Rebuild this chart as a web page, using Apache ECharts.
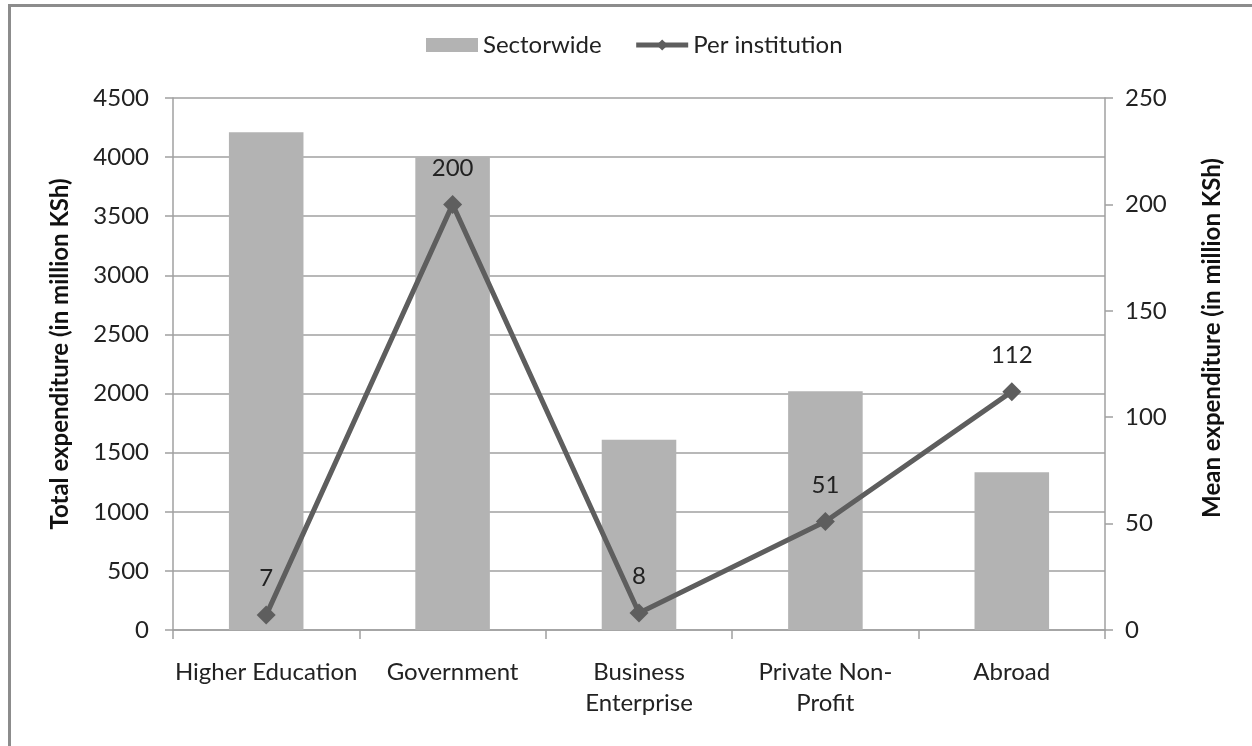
<!DOCTYPE html>
<html>
<head>
<meta charset="utf-8">
<script src="https://cdn.jsdelivr.net/npm/echarts@6/dist/echarts.min.js"></script>
<style>
  html, body { margin: 0; padding: 0; background: #fff; }
  #frame { position: absolute; left: 8px; top: 4px; width: 1260px; height: 760px;
           border-left: 3px solid #8c8c8c; border-top: 3px solid #8c8c8c; box-sizing: border-box; }
  #chart { position: absolute; left: 0; top: 0; width: 1252px; height: 746px; }
</style>
</head>
<body>
<div id="frame"></div>
<div id="chart"></div>
<script>
// Research expenditure by sector
const categories = ['Higher Education', 'Government', 'Business\nEnterprise', 'Private Non-\nProfit', 'Abroad'];
const sectorwide = [4210, 4000, 1610, 2020, 1335];      // total, million KSh
const perInstitution = [7, 200, 8, 51, 112];            // mean, million KSh
const leftTicks = { min: 0, max: 4500, interval: 500 };
const rightTicks = { min: 0, max: 250, interval: 50 };

const FONT = 'Lato';
const axisGray = '#a0a0a0';
const lineGray = '#5e5e5e';

const chart = echarts.init(document.getElementById('chart'), null, { renderer: 'canvas' });
chart.setOption({
  backgroundColor: 'transparent',
  animation: false,
  textStyle: { fontFamily: FONT },
  legend: {
    top: 28,
    left: 421,
    itemWidth: 52,
    itemHeight: 14,
    itemGap: 32,
    textStyle: { fontFamily: FONT, fontSize: 24, color: '#222' },
    data: [
      { name: 'Sectorwide', icon: 'rect' },
      { name: 'Per institution', lineStyle: { width: 5 } }
    ]
  },
  grid: { left: 173, right: 147, top: 98, bottom: 116 },
  xAxis: {
    type: 'category',
    data: categories,
    axisLine: { lineStyle: { color: axisGray, width: 1.5 } },
    axisTick: { show: true, length: 9, lineStyle: { color: axisGray, width: 1.5 } },
    axisLabel: { fontFamily: FONT, fontSize: 24, color: '#222', margin: 27, lineHeight: 31, interval: 0 }
  },
  yAxis: [
    {
      type: 'value',
      min: leftTicks.min, max: leftTicks.max, interval: leftTicks.interval,
      name: 'Total expenditure (in million KSh)',
      nameLocation: 'middle',
      nameRotate: 90,
      nameGap: 101,
      nameTextStyle: { fontFamily: FONT, fontSize: 24, fontWeight: 'bold', color: '#111', padding: [0, 0, 0, 20] },
      axisLine: { show: true, lineStyle: { color: axisGray, width: 1.5 } },
      axisTick: { show: true, inside: false, length: 8, lineStyle: { color: axisGray, width: 1.5 } },
      axisLabel: { fontFamily: FONT, fontSize: 24, color: '#222', margin: 24, formatter: v => String(v) },
      splitLine: { show: true, lineStyle: { color: axisGray, width: 1.5 } }
    },
    {
      type: 'value',
      position: 'right',
      min: rightTicks.min, max: rightTicks.max, interval: rightTicks.interval,
      name: 'Mean expenditure (in million KSh)',
      nameLocation: 'middle',
      nameRotate: 90,
      nameGap: 95,
      nameTextStyle: { fontFamily: FONT, fontSize: 24, fontWeight: 'bold', color: '#111', padding: [0, 0, 0, 52] },
      axisLine: { show: true, lineStyle: { color: axisGray, width: 1.5 } },
      axisTick: { show: true, inside: false, length: 8, lineStyle: { color: axisGray, width: 1.5 } },
      axisLabel: { fontFamily: FONT, fontSize: 24, color: '#222', margin: 20 },
      splitLine: { show: false }
    }
  ],
  series: [
    {
      name: 'Sectorwide',
      type: 'bar',
      yAxisIndex: 0,
      data: sectorwide,
      barWidth: '40%',
      itemStyle: { color: '#b3b3b3' }
    },
    {
      name: 'Per institution',
      type: 'line',
      yAxisIndex: 1,
      data: perInstitution,
      symbol: 'diamond',
      symbolSize: 19,
      lineStyle: { color: lineGray, width: 5 },
      itemStyle: { color: lineGray },
      label: {
        show: true,
        position: 'top',
        distance: 15,
        fontFamily: FONT,
        fontSize: 24,
        color: '#222'
      },
      z: 5
    }
  ]
});
</script>
</body>
</html>
